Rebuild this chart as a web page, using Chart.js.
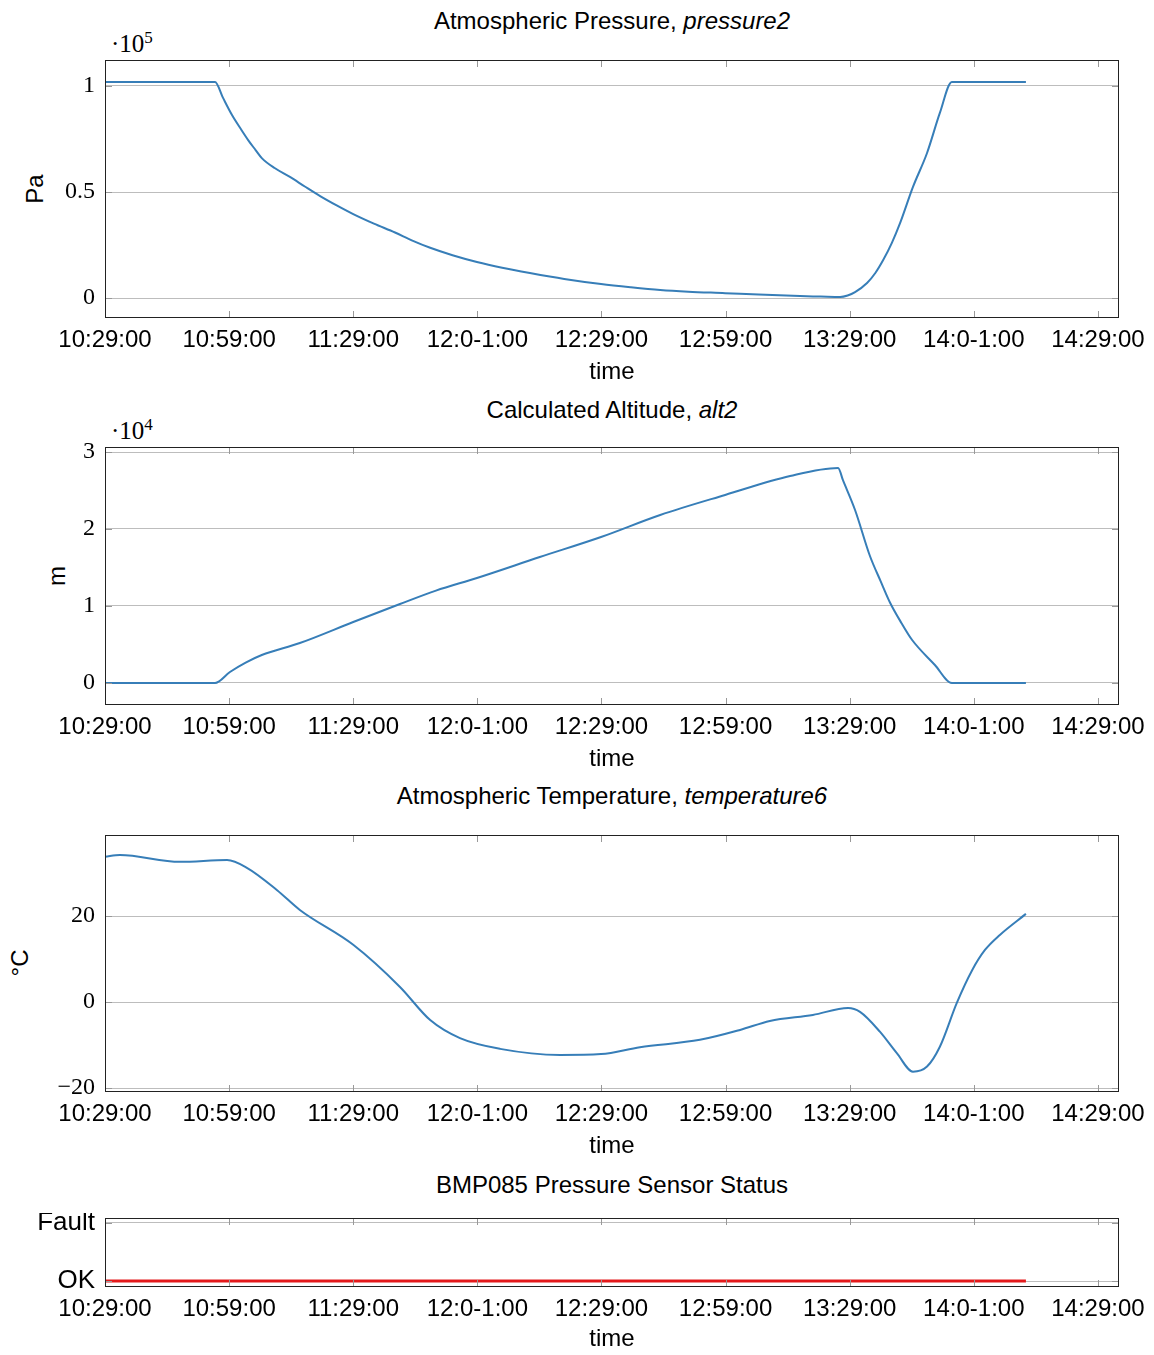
<!DOCTYPE html>
<html>
<head>
<meta charset="utf-8">
<script src="https://cdn.jsdelivr.net/npm/chart.js@4.4.1/dist/chart.umd.min.js"></script>
<style>
  body { margin: 0; background: #fff; }
  #page { position: relative; width: 1154px; height: 1355px; font-family: 'Liberation Sans', sans-serif; color: #000; }
  #page canvas { position: absolute; left: 0; }
  .title { position: absolute; left: 105px; width: 1014px; text-align: center; font-size: 24px; line-height: 28px; }
  .exp { position: absolute; font-family: 'Liberation Serif', serif; font-size: 25px; line-height: 28px; }
  .exp sup { font-size: 17px; }
  .ytitle { position: absolute; font-size: 24px; line-height: 28px; transform: translate(-50%, -50%) rotate(-90deg); white-space: nowrap; }
</style>
</head>
<body>
<div id="page">
  <div class="title" style="top:7px">Atmospheric Pressure, <i>pressure2</i></div>
  <div class="exp" style="left:111px; top:24px">&middot;10<sup>5</sup></div>
  <div class="ytitle" style="left:35px; top:189px">Pa</div>
  <canvas id="chart-pressure" width="1154" height="333" style="top:55px"></canvas>

  <div class="title" style="top:396px">Calculated Altitude, <i>alt2</i></div>
  <div class="exp" style="left:111px; top:411px">&middot;10<sup>4</sup></div>
  <div class="ytitle" style="left:57px; top:576px">m</div>
  <canvas id="chart-alt" width="1154" height="333" style="top:442px"></canvas>

  <div class="title" style="top:782px">Atmospheric Temperature, <i>temperature6</i></div>
  <div class="ytitle" style="left:20px; top:963px">&deg;C</div>
  <canvas id="chart-temp" width="1154" height="332" style="top:830px"></canvas>

  <div class="title" style="top:1171px">BMP085 Pressure Sensor Status</div>
  <canvas id="chart-status" width="1154" height="142" style="top:1213px"></canvas>
</div>
<script>
// time axis: minutes after 10:29:00
const X_TICKS = [0, 30, 60, 90, 120, 150, 180, 210, 240];
const X_LABELS = ['10:29:00', '10:59:00', '11:29:00', '12:0-1:00', '12:29:00', '12:59:00', '13:29:00', '14:0-1:00', '14:29:00'];
const X_MAX = 245.1;

const PRESSURE_T = [0, 26.6, 28.5, 30.7, 32.8, 34.6, 36.4, 37.9, 41.0, 44.7, 48.3, 52, 56, 60, 65, 70.1, 74.3, 78.6, 84, 89.9, 96, 102.7, 111, 119.9, 127, 134.2, 141, 149.9, 158, 168, 173, 177.7, 179.5, 181.3, 184.2, 186.2, 188.1, 190.2, 192.2, 195.3, 198.7, 201.8, 204.7, 222.6];
const PRESSURE_PA = [101900, 101900, 94500, 86300, 79800, 74500, 69800, 66000, 61300, 57100, 52600, 48100, 43700, 39600, 35100, 30900, 27100, 23700, 20200, 17000, 14300, 11800, 9000, 6600, 5100, 3800, 3000, 2300, 1600, 900, 700, 500, 1200, 2800, 7100, 11800, 17900, 26000, 35400, 52400, 68400, 87300, 101900, 101900];
const PRESSURE_TICKS = [0, 50000, 100000];

const ALT_T = [0, 26.6, 30.2, 34, 37.9, 47.1, 60, 71.3, 80, 89.9, 105.1, 119.9, 134.2, 149.9, 165.6, 177.2, 178.4, 181.3, 184.9, 187.5, 189.8, 192.5, 195.1, 200.6, 204.7, 222.6];
const ALT_M = [0, 0, 1430, 2650, 3640, 5190, 7920, 10260, 12000, 13640, 16360, 18960, 21820, 24420, 26880, 27920, 26300, 22470, 16490, 13200, 10390, 7800, 5580, 2340, 0, 0];
const ALT_TICKS = [0, 10000, 20000, 30000];

const TEMP_T = [0, 3.6, 18.1, 29.5, 34.3, 41.6, 47.1, 60, 71.3, 78.6, 85.8, 95.5, 110, 119.9, 129.3, 143.8, 153.5, 160.7, 171.1, 179.6, 182.5, 187.3, 191.4, 195.3, 198.7, 201.8, 205.9, 209.6, 212.7, 216.3, 222.6];
const TEMP_C = [33.8, 34.2, 32.6, 33.0, 31.2, 26.0, 21.4, 13.3, 3.5, -4.2, -8.4, -10.9, -12.3, -12.1, -10.5, -8.8, -6.5, -4.4, -3.0, -1.4, -2.3, -6.9, -11.9, -16.2, -15.0, -10.4, -0.2, 7.4, 12.1, 15.6, 20.5];
const TEMP_TICKS = [-20, 0, 20];

const STATUS_T = [0, 222.6];
const STATUS = [0, 0];
const STATUS_TICKS = [0, 1];
const STATUS_LABELS = ['OK', 'Fault'];

const BLUE = '#377eb8';
const RED = '#e41a1c';

// pgfplots-style frame with inward tick marks
const frameTicks = {
  id: 'frameTicks',
  afterDatasetsDraw(chart) {
    const { ctx, chartArea: a, scales: { x, y } } = chart;
    ctx.save();
    ctx.strokeStyle = '#999';
    ctx.lineWidth = 1;
    ctx.beginPath();
    x.ticks.forEach(t => {
      const px = Math.round(x.getPixelForValue(t.value)) + 0.5;
      ctx.moveTo(px, a.top); ctx.lineTo(px, a.top + 7);
      ctx.moveTo(px, a.bottom); ctx.lineTo(px, a.bottom - 7);
    });
    y.ticks.forEach(t => {
      const py = Math.round(y.getPixelForValue(t.value)) + 0.5;
      ctx.moveTo(a.left, py); ctx.lineTo(a.left + 7, py);
      ctx.moveTo(a.right, py); ctx.lineTo(a.right - 7, py);
    });
    ctx.stroke();
    ctx.strokeStyle = '#222';
    ctx.strokeRect(Math.round(a.left) + 0.5, Math.round(a.top) + 0.5, Math.round(a.width) - 1, Math.round(a.height) - 1);
    ctx.restore();
  }
};

function makeChart(id, xs, ys, opts) {
  return new Chart(document.getElementById(id), {
    type: 'line',
    data: {
      datasets: [{
        data: xs.map((t, i) => ({ x: t, y: ys[i] })),
        borderColor: opts.color || BLUE,
        borderWidth: opts.width || 2,
        pointRadius: 0,
        cubicInterpolationMode: opts.monotone ? 'monotone' : 'default',
      }],
    },
    options: {
      responsive: false,
      animation: false,
      layout: { padding: { top: 5, right: 35, left: 0, bottom: 0 }, autoPadding: false },
      plugins: { legend: { display: false }, tooltip: { enabled: false } },
      scales: {
        x: {
          type: 'linear',
          min: 0,
          max: X_MAX,
          afterBuildTicks: s => { s.ticks = X_TICKS.map(v => ({ value: v })); },
          afterFit: s => { s.height = opts.xHeight; s.paddingLeft = 0; s.paddingRight = 0; },
          grid: { display: false },
          border: { display: false },
          ticks: {
            color: '#000',
            padding: 0,
            maxRotation: 0,
            font: { family: 'Liberation Sans', size: 24 },
            callback: v => X_LABELS[X_TICKS.indexOf(v)],
          },
          title: {
            display: true,
            text: 'time',
            color: '#000',
            font: { family: 'Liberation Sans', size: 24 },
            padding: { top: 0, bottom: 1 },
          },
        },
        y: {
          min: opts.min,
          max: opts.max,
          afterBuildTicks: s => { s.ticks = opts.ticks.map(v => ({ value: v })); },
          afterFit: s => { s.width = 105; s.paddingTop = 0; s.paddingBottom = 0; },
          grid: { color: '#bdbdbd', drawTicks: false },
          border: { display: false },
          ticks: {
            color: '#000',
            padding: 10,
            font: opts.yFont || { family: 'Liberation Serif', size: 24 },
            callback: opts.label,
          },
        },
      },
    },
    plugins: [frameTicks],
  });
}

makeChart('chart-pressure', PRESSURE_T, PRESSURE_PA, {
  min: -9430, max: 112260, ticks: PRESSURE_TICKS, xHeight: 70, monotone: true,
  label: v => String(v / 1e5),
});

makeChart('chart-alt', ALT_T, ALT_M, {
  min: -2860, max: 30650, ticks: ALT_TICKS, xHeight: 70, monotone: true,
  label: v => String(v / 1e4),
});

makeChart('chart-temp', TEMP_T, TEMP_C, {
  min: -20.93, max: 38.84, ticks: TEMP_TICKS, xHeight: 70, monotone: true,
  label: v => (v < 0 ? '\u2212' + Math.abs(v) : String(v)),
});

makeChart('chart-status', STATUS_T, STATUS, {
  min: -0.103, max: 1.086, ticks: STATUS_TICKS, xHeight: 68, color: RED, width: 3,
  yFont: { family: 'Liberation Sans', size: 26 },
  label: v => STATUS_LABELS[STATUS_TICKS.indexOf(v)],
});
</script>
</body>
</html>
